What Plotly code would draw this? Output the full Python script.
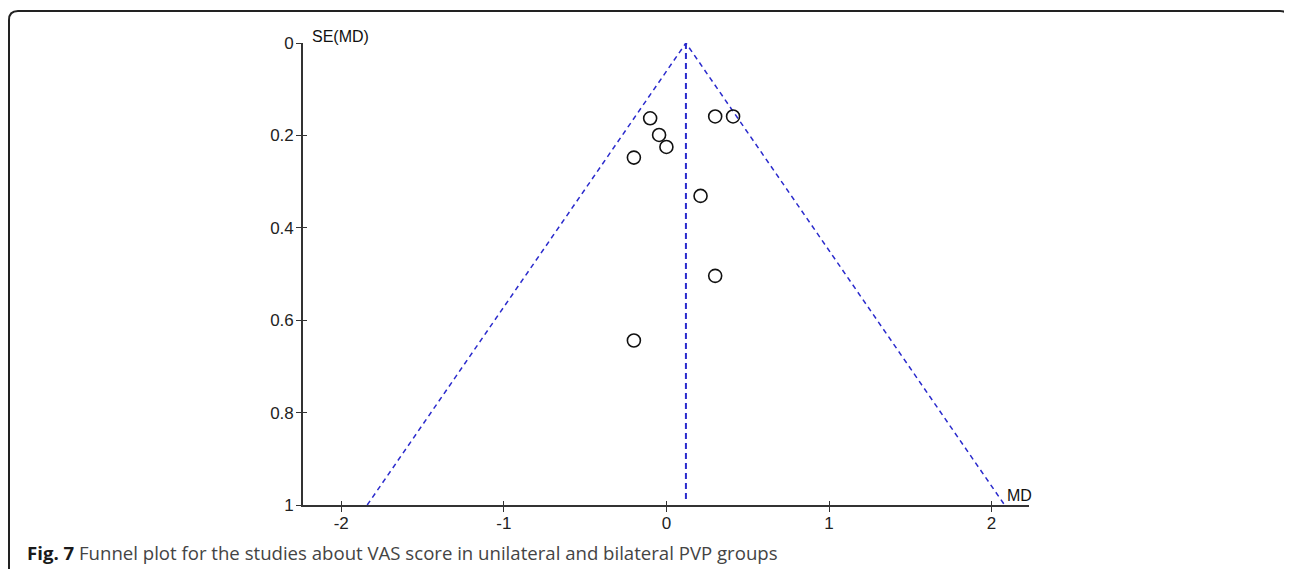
import plotly.graph_objects as go

# ---- data ----
md_vals = [-0.10, 0.30, 0.41, -0.045, 0.0, -0.20, 0.21, 0.30, -0.20]
se_vals = [0.163, 0.159, 0.159, 0.199, 0.225, 0.248, 0.331, 0.504, 0.644]
pooled_md = 0.12
se_max = 1.0
x_ticks = [-2, -1, 0, 1, 2]
y_ticks = [0, 0.2, 0.4, 0.6, 0.8, 1]
y_tick_text = ["0", "0.2", "0.4", "0.6", "0.8", "1"]
caption_bold = "Fig. 7"
caption_text = "Funnel plot for the studies about VAS score in unilateral and bilateral PVP groups"

# page body has an 8px margin -> figure origin sits at (8, 8) in the screenshot
OFF = 8
W, H = 1292 - OFF, 569 - OFF
ML, MT = 303 - OFF, 43 - OFF
PW, PH = 726, 462
MR = W - ML - PW
MB = H - MT - PH


def px(x):  # screenshot x -> paper
    return (x - OFF - ML) / PW


def py(y):  # screenshot y -> paper
    return 1 - (y - OFF - MT) / PH


funnel_color = "#2a2acc"
axis_color = "#333333"

fig = go.Figure()

# funnel limits
fig.add_trace(go.Scatter(
    x=[pooled_md - 1.96 * se_max, pooled_md, pooled_md + 1.96 * se_max],
    y=[se_max, 0, se_max],
    mode="lines",
    line=dict(color=funnel_color, width=1.5, dash="5px,4px"),
    hoverinfo="skip", showlegend=False,
))
fig.add_trace(go.Scatter(
    x=[pooled_md, pooled_md], y=[0, se_max * 0.99],
    mode="lines",
    line=dict(color=funnel_color, width=2, dash="6px,4px"),
    hoverinfo="skip", showlegend=False,
))
# studies
fig.add_trace(go.Scatter(
    x=md_vals, y=se_vals, mode="markers",
    marker=dict(symbol="circle-open", size=13, color="#111111",
                line=dict(width=1.6, color="#111111")),
    showlegend=False,
))
# invisible trace for the overlay axes (inside ticks)
fig.add_trace(go.Scatter(x=[0], y=[0], xaxis="x2", yaxis="y2", mode="markers",
                         marker=dict(opacity=0), hoverinfo="skip", showlegend=False))

xr = [-2.235, 2.23]
yr = [1, 0]
tickfont = dict(family="Arial, Liberation Sans, sans-serif", size=17, color="#222222")

fig.update_layout(
    width=W, height=H,
    margin=dict(l=ML, r=MR, t=MT, b=MB, pad=0),
    paper_bgcolor="white", plot_bgcolor="white",
    xaxis=dict(range=xr, showgrid=False, zeroline=False, showline=True,
               linecolor=axis_color, linewidth=1.6, ticks="outside", ticklen=5,
               tickwidth=1.4, tickcolor=axis_color, tickvals=x_ticks,
               ticktext=[str(t) for t in x_ticks], tickfont=tickfont,
               ticklabelstandoff=-3),
    yaxis=dict(range=yr, showgrid=False, zeroline=False, showline=True,
               linecolor=axis_color, linewidth=1.6, ticks="outside", ticklen=5,
               tickwidth=1.4, tickcolor=axis_color, tickvals=y_ticks,
               ticktext=y_tick_text, tickfont=tickfont, ticklabelstandoff=-1),
    xaxis2=dict(range=xr, overlaying="x", showgrid=False, zeroline=False,
                showline=False, ticks="inside", ticklen=4, tickwidth=1.4,
                tickcolor=axis_color, tickvals=x_ticks, showticklabels=False,
                side="bottom", anchor="y2"),
    yaxis2=dict(range=yr, overlaying="y", showgrid=False, zeroline=False,
                showline=False, ticks="inside", ticklen=4, tickwidth=1.4,
                tickcolor=axis_color, tickvals=y_ticks, showticklabels=False,
                side="left", anchor="x2"),
)

axis_label_font = dict(family="Arial, Liberation Sans, sans-serif", size=16, color="#111111")
fig.add_annotation(x=px(310), y=py(36), xref="paper", yref="paper", text="SE(MD)",
                   showarrow=False, xanchor="left", yanchor="middle", font=axis_label_font)
fig.add_annotation(x=px(1005), y=py(495), xref="paper", yref="paper", text="MD",
                   showarrow=False, xanchor="left", yanchor="middle", font=axis_label_font)

# caption
fig.add_annotation(
    x=px(25), y=py(552), xref="paper", yref="paper",
    text=f"<b><span style='color:#1a1a1a'>{caption_bold}</span></b> {caption_text}",
    showarrow=False, xanchor="left", yanchor="middle",
    font=dict(family="Open Sans, sans-serif", size=18.6, color="#444444"),
)

# rounded border frame
L, T, R, B, r = 9, 11, 1289, 600, 9
path = (f"M {px(L)},{py(B)} L {px(L)},{py(T + r)} "
        f"Q {px(L)},{py(T)} {px(L + r)},{py(T)} "
        f"L {px(R - r)},{py(T)} Q {px(R)},{py(T)} {px(R)},{py(T + r)} "
        f"L {px(R)},{py(B)}")
fig.add_shape(type="path", path=path, xref="paper", yref="paper",
              line=dict(color="#222222", width=2), layer="above")

fig.write_html("out.html")
